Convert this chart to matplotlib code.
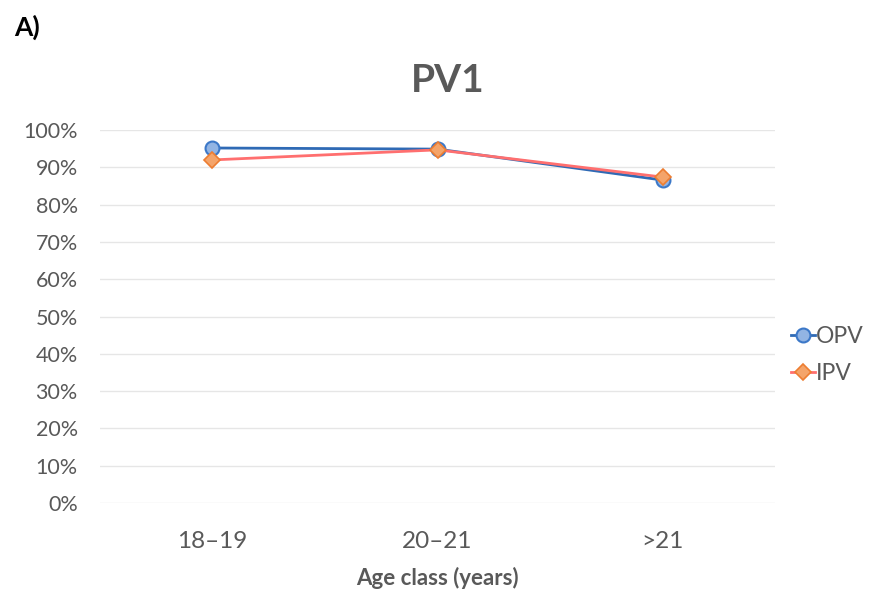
import numpy as np
import matplotlib.pyplot as plt

plt.rcParams['font.family'] = ['Lato', 'DejaVu Sans']

# data
age_classes = ["18\u201319", "20\u201321", ">21"]
opv = [0.952, 0.949, 0.866]
ipv = [0.920, 0.947, 0.874]
y_ticks = np.arange(0, 1.01, 0.1)

fig = plt.figure(figsize=(8.71, 5.90), dpi=100)
ax = fig.add_axes([0.1148, 0.1475, 0.775, 0.632])

x = np.arange(len(age_classes))
ax.plot(x, opv, color='#2F6AB5', lw=2, marker='o', ms=10,
        markerfacecolor='#92B4E3', markeredgecolor='#3C78C8', mew=1.5, label='OPV', zorder=3)
ax.plot(x, ipv, color='#FF6F6F', lw=2, marker='D', ms=8,
        markerfacecolor='#F4A46A', markeredgecolor='#ED7D31', mew=1.2, label='IPV', zorder=4)

ax.set_xlim(-0.5, 2.5)
ax.set_ylim(0, 1)
ax.set_yticks(y_ticks)
ax.set_yticklabels([f"{int(round(v * 100))}%" for v in y_ticks])
ax.set_xticks(x)
ax.set_xticklabels(age_classes)
ax.grid(axis='y', color='#E6E6E6', lw=1)
ax.set_axisbelow(True)
for s in ax.spines.values():
    s.set_visible(False)
ax.tick_params(length=0, labelcolor='#595959')
ax.tick_params(axis='x', pad=20, labelsize=17.5)
ax.tick_params(axis='y', pad=16, labelsize=15.5)

ax.set_xlabel("Age class (years)", fontsize=16, fontweight='bold', color='#595959', labelpad=11)
fig.text(0.514, 0.864, "PV1", ha='center', va='center', fontsize=28, fontweight='bold', color='#595959')
fig.text(0.016, 0.953, "A)", ha='left', va='center', fontsize=19, fontweight='bold', color='black')

fig.legend(loc='center left', bbox_to_anchor=(0.884, 0.398), frameon=False,
           fontsize=16.5, labelcolor='#595959', handlelength=1.05, handletextpad=0.05,
           labelspacing=0.7)

fig.savefig("out.png", dpi=100)
